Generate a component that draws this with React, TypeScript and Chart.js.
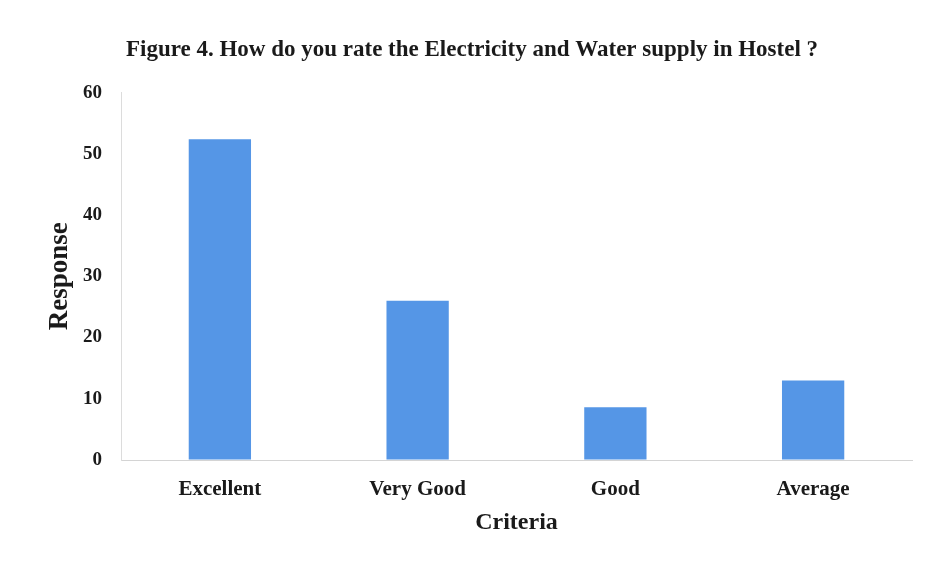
import React, { useEffect, useRef } from "react";
import { Chart, registerables } from "chart.js";

Chart.register(...registerables);

const categories: string[] = ["Excellent", "Very Good", "Good", "Average"];
const responses: number[] = [52.4, 26, 8.6, 13];
const yTicks: number[] = [0, 10, 20, 30, 40, 50, 60];
const titleText = "Figure 4. How do you rate the Electricity and Water supply in Hostel ?";
const xTitle = "Criteria";
const yTitle = "Response";

const FONT = "'Liberation Serif', 'Times New Roman', serif";

export default function App() {
  const ref = useRef<HTMLCanvasElement | null>(null);

  useEffect(() => {
    if (!ref.current) return;
    const chart = new Chart(ref.current, {
      type: "bar",
      data: {
        labels: categories,
        datasets: [
          {
            label: yTitle,
            data: responses,
            backgroundColor: "#5596E6",
            borderWidth: 0,
            categoryPercentage: 1,
            barPercentage: 0.315,
          },
        ],
      },
      options: {
        animation: false,
        responsive: false,
        maintainAspectRatio: false,
        layout: { padding: { left: 32, right: 16, top: 0, bottom: 0 } },
        plugins: {
          legend: { display: false },
          tooltip: { enabled: false },
          title: {
            display: true,
            text: titleText,
            color: "#1a1a1a",
            font: { family: FONT, size: 23, weight: "bold" },
            padding: { top: 36, bottom: 29 },
          },
        },
        scales: {
          x: {
            afterFit: (axis: any) => {
              axis.height = 105;
            },
            grid: { color: "rgba(0,0,0,0)", drawTicks: false },
            border: { display: true, color: "#d4d4d4", width: 1 },
            ticks: {
              color: "#1a1a1a",
              font: { family: FONT, size: 21, weight: "bold" },
              padding: 17,
            },
            title: {
              display: true,
              text: xTitle,
              color: "#1a1a1a",
              font: { family: FONT, size: 24, weight: "bold" },
              padding: { top: 0, bottom: 28 },
            },
          },
          y: {
            min: 0,
            max: 60,
            afterBuildTicks: (axis: any) => {
              axis.ticks = yTicks.map((v) => ({ value: v }));
            },
            afterFit: (axis: any) => {
              axis.width = 89;
            },
            grid: { color: "rgba(0,0,0,0)", drawTicks: false },
            border: { display: true, color: "#dcdcdc", width: 1 },
            ticks: {
              color: "#1a1a1a",
              font: { family: FONT, size: 19, weight: "bold" },
              padding: 19,
            },
            title: {
              display: true,
              text: yTitle,
              color: "#1a1a1a",
              font: { family: FONT, size: 27, weight: "bold" },
              padding: { top: 12, bottom: 0 },
            },
          },
        },
      },
    });
    return () => chart.destroy();
  }, []);

  return (
    <div
      style={{
        position: "fixed",
        left: 0,
        top: 0,
        width: 928,
        height: 565,
        background: "#ffffff",
      }}
    >
      <canvas ref={ref} width={928} height={565} style={{ display: "block" }} />
    </div>
  );
}
